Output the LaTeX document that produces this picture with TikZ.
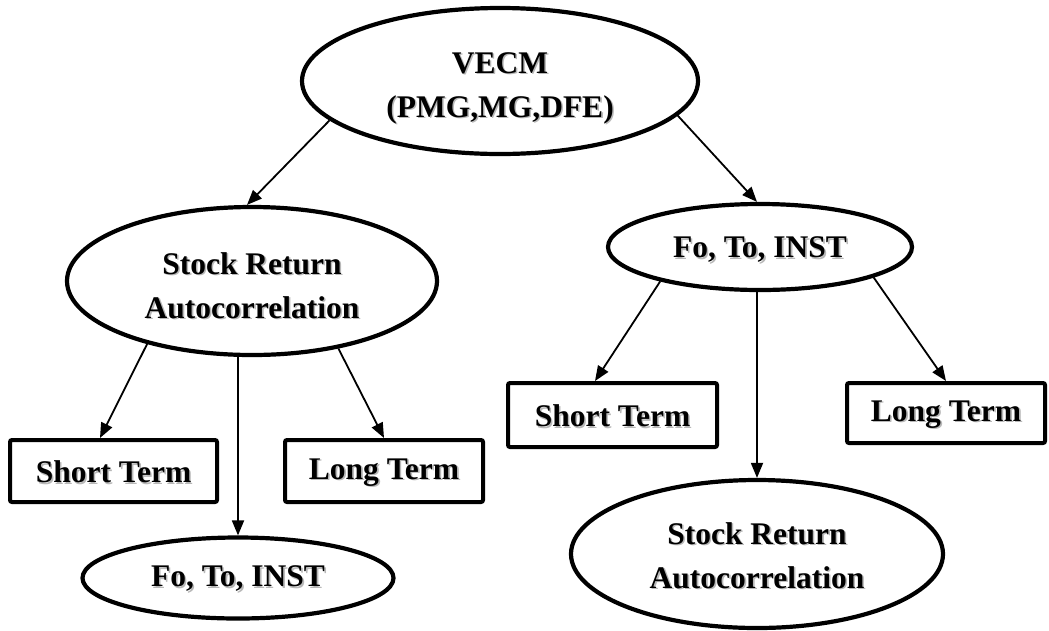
\documentclass[tikz,border=0pt]{standalone}
\usepackage{fontspec}
\setmainfont{Liberation Serif}
\usetikzlibrary{shapes.geometric,arrows.meta}
\newcommand{\sh}[1]{\leavevmode\rlap{\hspace{1.6pt}\raisebox{-1.6pt}{\color{black!28}#1}}#1}
\newcommand{\dn}[1]{\rule{0pt}{#1}}
\tikzset{
  oval/.style={ellipse, draw, line width=4.2pt, inner sep=0pt, align=center,
    font=\fontsize{31.5}{44}\selectfont\bfseries},
  termbox/.style={rectangle, draw, line width=4pt, rounded corners=2pt, inner sep=0pt,
    align=center, font=\fontsize{31.5}{44}\selectfont\bfseries},
  arr/.style={line width=1.8pt, -{Triangle[length=15pt,width=12pt]}},
}
\begin{document}
\begin{tikzpicture}[x=1pt,y=-1pt]
\useasboundingbox (0,0) rectangle (1049,630);
\node[oval, minimum width=396pt, minimum height=146pt] (vecm) at (500,81) {\dn{37pt}\sh{VECM}\\\sh{(PMG,MG,DFE)}};
\node[oval, minimum width=370pt, minimum height=148pt] (lsr) at (252,281) {\dn{32pt}\sh{Stock Return}\\\sh{Autocorrelation}};
\node[oval, minimum width=304pt, minimum height=86pt] (rfo) at (760,247) {\dn{28pt}\sh{Fo, To, INST}};
\node[termbox, minimum width=207pt, minimum height=62pt] (lst) at (113.5,471) {\dn{25pt}\sh{Short Term}};
\node[termbox, minimum width=198pt, minimum height=62pt] (llt) at (384,471) {\dn{25pt}\sh{Long Term}};
\node[oval, minimum width=311pt, minimum height=81pt] (lfo) at (238,578) {\dn{24pt}\sh{Fo, To, INST}};
\node[termbox, minimum width=209pt, minimum height=64pt] (rst) at (612.5,415) {\dn{25pt}\sh{Short Term}};
\node[termbox, minimum width=198pt, minimum height=60pt] (rlt) at (946,413) {\dn{25pt}\sh{Long Term}};
\node[oval, minimum width=372pt, minimum height=148pt] (rsr) at (757,554) {\dn{26pt}\sh{Stock Return}\\\sh{Autocorrelation}};
% connectors
\draw[arr] (vecm.193) -- ([xshift=-5pt]lsr.north);
\draw[arr] (vecm.349) -- ([xshift=-3pt]rfo.north);
\draw[arr] (lsr.211) -- ([xshift=-13.5pt]lst.north);
\draw[arr] (lfo.north |- lsr.south) -- (lfo.north);
\draw[arr] (lsr.322) -- (llt.north);
\draw[arr] (rfo.199) -- ([xshift=-17.5pt]rst.north);
\draw[arr] (rsr.north |- rfo.south) -- (rsr.north);
\draw[arr] (rfo.345) -- (rlt.north);
\end{tikzpicture}
\end{document}
